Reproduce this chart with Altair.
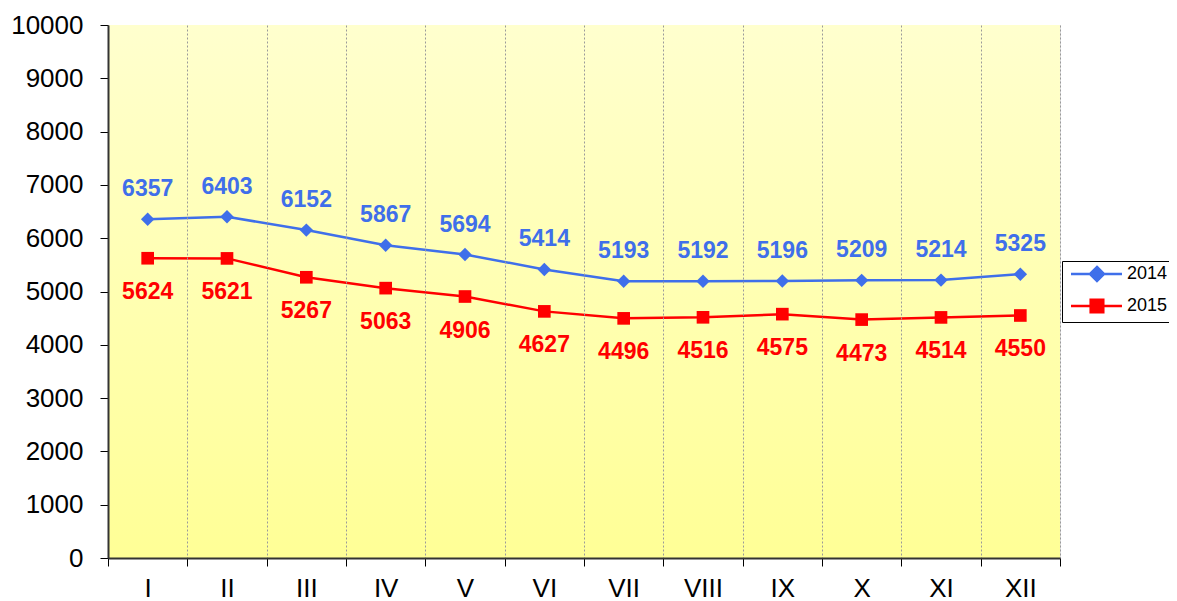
import altair as alt
import pandas as pd

months = ["I", "II", "III", "IV", "V", "VI", "VII", "VIII", "IX", "X", "XI", "XII"]
series_names = ["2014", "2015"]
values_2014 = [6357, 6403, 6152, 5867, 5694, 5414, 5193, 5192, 5196, 5209, 5214, 5325]
values_2015 = [5624, 5621, 5267, 5063, 4906, 4627, 4496, 4516, 4575, 4473, 4514, 4550]
y_ticks = [0, 1000, 2000, 3000, 4000, 5000, 6000, 7000, 8000, 9000, 10000]

colors = ["#3F6FEA", "#FF0000"]
FONT = "Liberation Sans"
W, H = 952, 533

rows = []
for m, v in zip(months, values_2014):
    rows.append({"month": m, "series": "2014", "value": v})
for m, v in zip(months, values_2015):
    rows.append({"month": m, "series": "2015", "value": v})
df = pd.DataFrame(rows)

x_enc = alt.X(
    "month:N",
    sort=months,
    bandPosition=0.5,
    scale=alt.Scale(type="band", paddingInner=0, paddingOuter=0),
    axis=alt.Axis(
        title=None,
        tickBand="extent",
        grid=True,
        gridColor="#9a9a9a",
        gridDash=[2, 2],
        gridWidth=1,
        tickSize=8,
        tickColor="#000000",
        tickWidth=1,
        domainColor="#333333",
        domainWidth=2,
        labelFont=FONT,
        labelFontSize=26,
        labelColor="#000000",
        labelPadding=9,
        labelAngle=0,
        zindex=1,
    ),
)
y_enc = alt.Y(
    "value:Q",
    scale=alt.Scale(domain=[0, 10000], nice=False, zero=True),
    axis=alt.Axis(
        title=None,
        values=y_ticks,
        format="d",
        grid=False,
        tickSize=8,
        tickColor="#000000",
        tickWidth=1,
        domainColor="#333333",
        domainWidth=2,
        labelFont=FONT,
        labelFontSize=26,
        labelColor="#000000",
        labelPadding=17,
        zindex=1,
    ),
)
color_enc = alt.Color(
    "series:N",
    scale=alt.Scale(domain=series_names, range=colors),
    legend=None,
)

legend_paths = [
    "M-0.57,0L6.71,0M3.14,-1L4.14,0L3.14,1L2.14,0Z",
    "M-0.57,0L6.71,0M2.24,-0.9L4.04,-0.9L4.04,0.9L2.24,0.9Z",
]
leg = alt.Legend(
    title=None,
    orient="none",
    legendX=954,
    legendY=236,
    fillColor="#FFFFFF",
    strokeColor="#000000",
    padding=4,
    labelFont=FONT,
    labelFontSize=18,
    labelColor="#000000",
    labelOffset=43,
    symbolSize=196,
    symbolStrokeWidth=2.5,
    symbolOpacity=1,
    rowPadding=8,
)

base = alt.Chart(df)

# legend source layer (covered by the plot background)
legend_layer = base.mark_point(filled=True, size=100, opacity=1).encode(
    x=x_enc,
    y=y_enc,
    fill=alt.Fill("series:N", scale=alt.Scale(domain=series_names, range=colors), legend=leg),
    stroke=alt.Stroke("series:N", scale=alt.Scale(domain=series_names, range=colors), legend=leg),
    shape=alt.Shape("series:N", scale=alt.Scale(domain=series_names, range=legend_paths), legend=leg),
)

bg = alt.Chart(pd.DataFrame({"a": [0]})).mark_rect(
    color=alt.Gradient(
        gradient="linear",
        stops=[
            alt.GradientStop(color="#FFFFCE", offset=0),
            alt.GradientStop(color="#FFFF96", offset=1),
        ],
        x1=0, x2=0, y1=0, y2=1,
    )
).encode(x=alt.value(0), x2=alt.value(W), y=alt.value(0), y2=alt.value(H))

lines = base.mark_line(strokeWidth=2.5).encode(x=x_enc, y=y_enc, color=color_enc)

pts14 = base.transform_filter(alt.datum.series == "2014").mark_point(
    shape="diamond", filled=True, size=180, opacity=1
).encode(x=x_enc, y=y_enc, color=color_enc)
pts15 = base.transform_filter(alt.datum.series == "2015").mark_point(
    shape="square", filled=True, size=160, opacity=1
).encode(x=x_enc, y=y_enc, color=color_enc)

lab14 = base.transform_filter(alt.datum.series == "2014").mark_text(
    font=FONT, fontSize=23, fontWeight="bold", dy=-30, baseline="middle"
).encode(x=x_enc, y=y_enc, color=color_enc, text="value:Q")
lab15 = base.transform_filter(alt.datum.series == "2015").mark_text(
    font=FONT, fontSize=23, fontWeight="bold", dy=34, baseline="middle"
).encode(x=x_enc, y=y_enc, color=color_enc, text="value:Q")

chart = alt.layer(legend_layer, bg, lines, pts14, pts15, lab14, lab15).properties(
    width=W,
    height=H,
    autosize=alt.AutoSizeParams(type="none"),
    padding={"left": 100, "top": 17, "right": 109, "bottom": 43},
).configure_view(
    stroke="#8a8a8a", strokeWidth=3
).configure(background="#FFFFFF")

chart.save("out.html", embed_options={"renderer": "svg", "actions": False})
